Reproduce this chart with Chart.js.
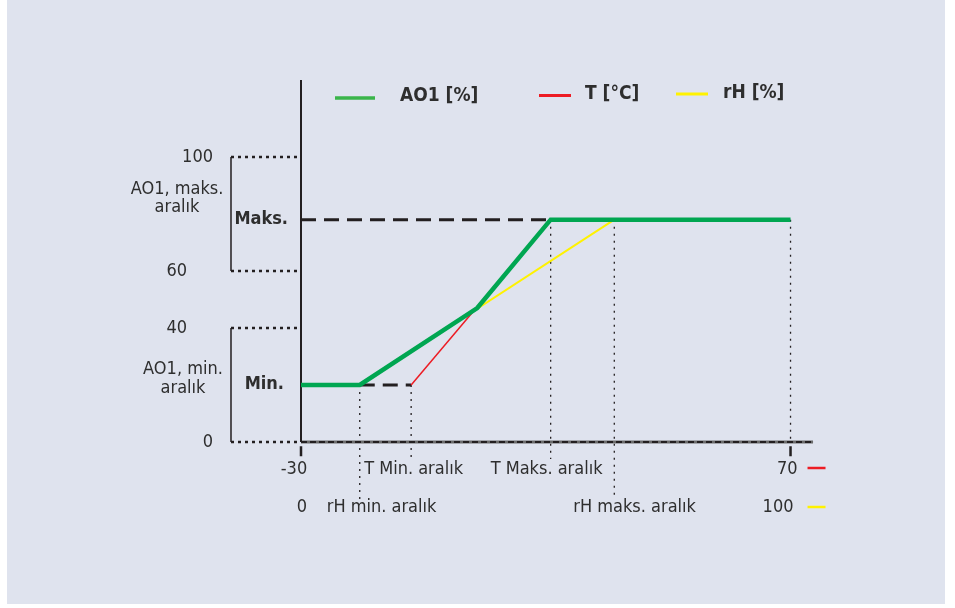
<!DOCTYPE html>
<html>
<head>
<meta charset="utf-8">
<script src="https://cdn.jsdelivr.net/npm/chart.js@4.4.0/dist/chart.umd.min.js"></script>
<style>
html, body { margin: 0; padding: 0; background: #fff; }
</style>
</head>
<body>
<canvas id="chart" width="955" height="608"></canvas>
<script>
// eksen aralıkları
const tAxis = [-30, 70];
const rhAxis = [0, 100];
const yTicks = [0, 40, 60, 100];
const yTickLabels = ['0', '40', '60', '100'];

// AO1 seviyeleri
const ao1Min = 20;
const ao1Max = 78;

// kırılma noktaları
const tMin = -7.5, tMax = 21;
const rhMin = 12, rhMax = 64;

// AO1 eğrisi (T ekseninde)
const ao1X = [-30, -18, 6, 21, 70];
const ao1Y = [20, 20, 47, 78, 78];

const BG = '#dfe3ee';
const INK = '#231f20';
const TXT = '#2e2e2e';
const FONT = '"DejaVu Sans Condensed", "DejaVu Sans", sans-serif';

const pts = (xs, ys) => xs.map((x, i) => ({ x: x, y: ys[i] }));

function seg(data, color, width, dash, order, axis) {
    return {
        data: data,
        borderColor: color,
        borderWidth: width,
        borderDash: dash || [],
        pointRadius: 0,
        tension: 0,
        fill: false,
        clip: false,
        order: order,
        xAxisID: axis || 'x'
    };
}

const leftX = tAxis[0] - 14.3; // bracket column
const datasets = [
    // AO1
    seg(pts(ao1X, ao1Y), '#00a651', 4.5, null, 0),
    // rH
    seg(pts([rhMin, rhMax], [ao1Min, ao1Max]), '#fff200', 2, null, 1, 'x2'),
    // T
    seg(pts([tMin, tMax], [ao1Min, ao1Max]), '#ed1c24', 1.5, null, 2),
    // kesikli Maks / Min
    seg(pts([tAxis[0], tMax], [ao1Max, ao1Max]), INK, 3, [15, 8], 3),
    seg(pts([rhMin - 30, tMin], [ao1Min, ao1Min]), INK, 3, [15, 8], 3),
    // eksenler
    seg(pts([tAxis[0], tAxis[1] + 4.6], [0, 0]), '#6b6b6b', 3, null, 5),
    seg(pts([tAxis[0], tAxis[1] + 4.6], [0, 0]), INK, 2, [6, 3], 4),
    seg(pts([tAxis[0], tAxis[0]], [0, 127]), INK, 2, null, 4),
    seg(pts([tAxis[0], tAxis[0]], [-1.5, -5]), INK, 2.5, null, 4),
    seg(pts([tAxis[1], tAxis[1]], [-1.5, -5]), INK, 2.5, null, 4),
    // parantezler
    seg(pts([leftX, leftX], [yTicks[3], yTicks[2]]), INK, 1.5, null, 4),
    seg(pts([leftX, leftX], [yTicks[1], yTicks[0]]), INK, 1.5, null, 4),
    // dikey noktalı çizgiler
    seg(pts([rhMin, rhMin], [ao1Min, -20]), INK, 1.3, [2, 5], 6, 'x2'),
    seg(pts([tMin, tMin], [ao1Min, -6]), INK, 1.3, [2, 5], 6),
    seg(pts([tMax, tMax], [ao1Max, -6]), INK, 1.3, [2, 5], 6),
    seg(pts([rhMax, rhMax], [ao1Max, -19]), INK, 1.3, [2, 5], 6, 'x2'),
    seg(pts([tAxis[1], tAxis[1]], [ao1Max, 0]), INK, 1.3, [2, 5], 6)
];
// yatay noktalı çizgiler
yTicks.forEach(v => datasets.push(seg(pts([leftX, tAxis[0]], [v, v]), INK, 2.5, [3, 4], 6)));

const bgPlugin = {
    id: 'bg',
    beforeDraw(chart) {
        const ctx = chart.ctx;
        ctx.save();
        ctx.fillStyle = BG;
        ctx.fillRect(7, 0, 938, 604);
        ctx.restore();
    }
};

const textPlugin = {
    id: 'texts',
    afterDraw(chart) {
        const ctx = chart.ctx;
        const X = v => chart.scales.x.getPixelForValue(v);
        const R = v => chart.scales.x2.getPixelForValue(v);
        const Y = v => chart.scales.y.getPixelForValue(v);
        const x0 = X(tAxis[0]);
        ctx.save();
        ctx.fillStyle = TXT;
        ctx.textBaseline = 'middle';

        function txt(s, x, y, align, bold, size) {
            ctx.font = (bold ? 'bold ' : '') + (size || 18) + 'px ' + FONT;
            ctx.textAlign = align || 'left';
            ctx.fillText(s, x, y);
        }
        function line(x1, x2, y, color, w) {
            ctx.strokeStyle = color;
            ctx.lineWidth = w;
            ctx.beginPath();
            ctx.moveTo(x1, y);
            ctx.lineTo(x2, y);
            ctx.stroke();
        }

        // y etiketleri
        yTicks.forEach((v, i) => {
            const right = (v === 0 || v === 100) ? x0 - 88 : x0 - 114;
            txt(yTickLabels[i], right, Y(v), 'right');
        });
        txt('AO1, maks.', x0 - 124, Y(100) + 32, 'center');
        txt('aralık', x0 - 124, Y(100) + 50, 'center');
        txt('AO1, min.', x0 - 118, Y(ao1Min) - 16, 'center');
        txt('aralık', x0 - 118, Y(ao1Min) + 3, 'center');
        txt('Maks.', x0 - 13, Y(ao1Max), 'right', true);
        txt('Min.', x0 - 17, Y(ao1Min) - 1, 'right', true);

        // alt etiketler
        const row1 = Y(0) + 27, row2 = Y(0) + 65;
        txt(String(tAxis[0]), x0 - 7, row1, 'center');
        txt('T Min. aralık', X(tMin) - 47, row1, 'left');
        txt('T Maks. aralık', X(tMax) - 60, row1, 'left');
        txt(String(tAxis[1]), X(tAxis[1]) + 7, row1, 'right');
        line(X(tAxis[1]) + 17, X(tAxis[1]) + 35, row1 - 1, '#ed1c24', 2.5);
        txt(String(rhAxis[0]), R(rhAxis[0]) + 1, row2, 'center');
        txt('rH min. aralık', R(rhMin) - 33, row2, 'left');
        txt('rH maks. aralık', R(rhMax) - 41, row2, 'left');
        txt(String(rhAxis[1]), R(rhAxis[1]) + 3, row2, 'right');
        line(R(rhAxis[1]) + 17, R(rhAxis[1]) + 35, row2, '#fff200', 2.5);

        // lejant
        line(335, 375, 98, '#3ab54a', 3.5);
        txt('AO1 [%]', 400, 96, 'left', true, 19);
        line(539, 571, 95.5, '#ed1c24', 3);
        txt('T [°C]', 585, 94.5, 'left', true, 19);
        line(676, 708, 94, '#fff200', 3);
        txt('rH [%]', 723, 93, 'left', true, 19);
        ctx.restore();
    }
};

new Chart(document.getElementById('chart').getContext('2d'), {
    type: 'line',
    data: { datasets: datasets },
    options: {
        responsive: false,
        animation: false,
        devicePixelRatio: 1,
        layout: { padding: { left: 301, right: 140, top: 80, bottom: 166 } },
        plugins: { legend: { display: false }, tooltip: { enabled: false } },
        scales: {
            x: { type: 'linear', display: false, min: tAxis[0], max: tAxis[1] + 5 },
            x2: { type: 'linear', display: false, min: rhAxis[0], max: rhAxis[1] + 5 },
            y: { type: 'linear', display: false, min: 0, max: 127 }
        }
    },
    plugins: [bgPlugin, textPlugin]
});
</script>
</body>
</html>
